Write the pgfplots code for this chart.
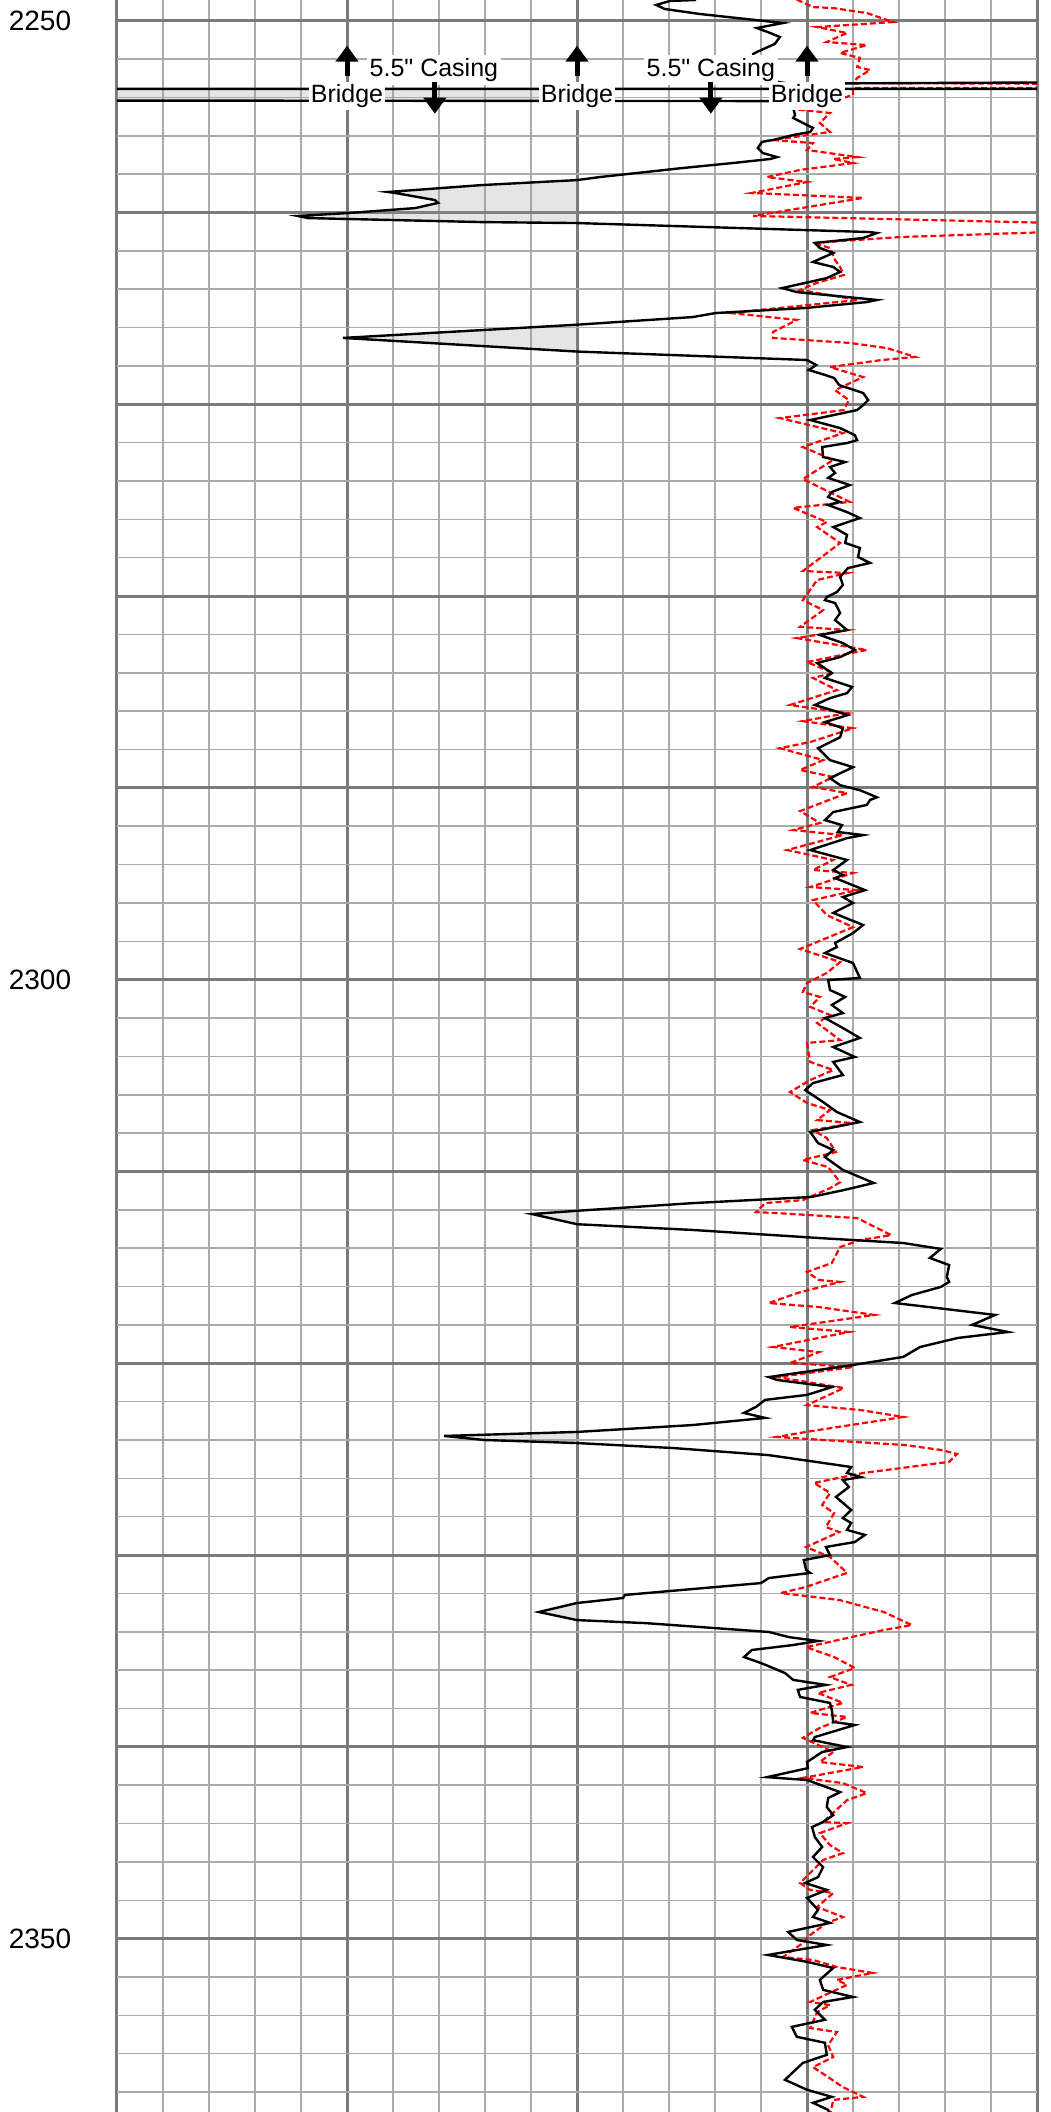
\documentclass[border=0pt]{standalone}
\usepackage{fontspec}
\setmainfont{Liberation Sans}
\usepackage{pgfplots}
\usepackage{pgfplotstable}
\pgfplotsset{compat=1.18}
\usetikzlibrary{arrows.meta}

\pgfplotstableread{
x d
12.59 2248.92
12.02 2248.97
11.72 2249.18
11.91 2249.39
12.67 2249.65
14.48 2250.12
13.91 2250.38
14.20 2250.64
14.41 2250.85
14.30 2251.21
13.91 2251.63
13.83 2251.73
13.90 2253.00
14.60 2253.28
22.00 2253.20
22.00 2253.55
-2.00 2253.55
-2.00 2254.16
14.15 2254.19
14.50 2254.34
14.70 2254.55
14.74 2254.92
14.70 2255.07
15.00 2255.44
15.13 2255.59
15.07 2255.80
14.70 2255.96
14.26 2256.22
14.02 2256.32
13.93 2256.64
14.04 2256.90
14.35 2257.11
14.20 2257.21
13.39 2257.42
12.30 2257.68
10.50 2258.15
10.00 2258.31
7.93 2258.57
5.89 2258.93
6.04 2258.98
6.91 2259.35
6.98 2259.50
6.48 2259.77
5.02 2260.03
3.93 2260.18
4.15 2260.29
7.93 2260.50
10.00 2260.55
16.37 2261.02
16.52 2261.07
16.22 2261.33
15.17 2261.59
15.28 2261.85
15.57 2262.11
15.13 2262.58
15.57 2262.84
15.72 2263.10
15.43 2263.42
14.46 2263.94
14.78 2264.15
16.52 2264.56
16.30 2264.67
14.96 2264.98
13.02 2265.24
12.52 2265.45
10.00 2265.85
4.91 2266.54
10.00 2267.25
15.00 2267.69
15.20 2267.95
15.04 2268.21
15.39 2268.47
15.59 2268.63
15.70 2269.00
16.22 2269.41
16.33 2269.78
16.22 2270.04
16.09 2270.30
15.07 2270.82
15.72 2271.24
16.04 2271.61
16.09 2271.87
15.87 2272.02
15.33 2272.23
15.35 2272.75
15.83 2273.01
15.50 2273.27
15.61 2273.58
15.46 2273.84
15.93 2274.21
15.54 2274.57
15.46 2274.83
15.72 2275.09
15.46 2275.25
15.87 2275.62
16.15 2275.93
15.57 2276.40
15.87 2276.81
15.83 2277.23
16.15 2277.49
16.11 2277.96
16.37 2278.27
15.89 2278.54
15.72 2279.00
15.78 2279.42
15.65 2279.79
15.43 2280.05
15.39 2280.21
15.61 2280.36
15.72 2280.88
15.61 2281.25
15.87 2281.77
15.28 2282.03
15.78 2282.45
16.04 2282.81
15.72 2283.18
15.22 2283.49
15.54 2284.01
15.39 2284.27
15.98 2284.74
15.87 2285.06
15.50 2285.32
15.17 2285.68
15.89 2286.20
15.39 2286.57
15.78 2286.89
15.72 2287.36
15.24 2287.93
15.50 2288.55
16.00 2288.92
15.50 2289.49
15.72 2289.86
16.15 2290.12
16.52 2290.49
16.37 2290.63
16.30 2290.89
15.57 2291.26
15.39 2291.68
15.76 2291.94
15.67 2292.30
16.22 2292.46
15.87 2292.62
15.07 2293.24
15.87 2293.76
15.57 2294.28
15.78 2294.54
15.61 2294.70
16.26 2295.33
15.78 2295.69
16.00 2296.00
15.57 2296.52
16.22 2297.15
16.00 2297.57
15.61 2298.09
15.65 2298.30
15.39 2298.61
16.00 2299.13
16.15 2299.91
15.46 2300.02
15.50 2300.54
15.83 2300.90
15.54 2301.32
15.78 2301.74
15.39 2302.00
15.78 2302.52
16.15 2303.04
15.57 2303.51
16.04 2304.03
15.57 2304.29
15.78 2304.97
15.13 2305.39
14.96 2305.76
15.35 2306.38
15.65 2306.90
16.15 2307.42
15.07 2307.94
15.24 2308.52
15.57 2308.88
15.39 2309.25
15.78 2309.92
16.45 2310.60
15.80 2310.97
15.09 2311.33
12.52 2311.65
10.00 2312.05
9.02 2312.22
9.89 2312.69
10.00 2312.75
12.52 2313.05
15.26 2313.47
17.09 2313.73
17.91 2314.04
17.67 2314.51
18.09 2314.88
18.04 2315.50
18.09 2315.76
17.91 2316.02
17.28 2316.44
16.91 2316.86
17.83 2317.12
19.09 2317.48
18.59 2318.00
19.37 2318.37
18.28 2318.68
17.46 2319.15
17.09 2319.67
16.00 2320.09
14.17 2320.72
14.35 2320.87
15.54 2321.24
15.00 2321.65
14.09 2321.91
13.89 2322.28
13.63 2322.59
14.09 2322.85
12.52 2323.22
10.00 2323.58
7.11 2323.79
7.98 2324.00
10.00 2324.16
12.09 2324.42
14.17 2324.79
15.07 2325.10
15.96 2325.41
15.87 2325.72
16.17 2325.93
15.78 2326.09
15.91 2326.45
15.63 2326.97
15.96 2327.65
15.78 2328.07
15.96 2328.33
15.87 2328.69
16.26 2328.95
16.04 2329.32
15.41 2329.58
15.50 2330.00
14.93 2330.26
14.98 2330.78
15.07 2330.93
14.17 2331.20
14.00 2331.46
11.04 2332.08
11.00 2332.24
10.00 2332.50
9.17 2332.97
10.00 2333.39
11.50 2333.55
14.17 2334.01
14.61 2334.28
15.24 2334.48
14.70 2334.69
13.80 2334.95
13.63 2335.32
14.00 2335.63
14.52 2336.15
14.70 2336.51
15.41 2336.77
14.80 2337.03
14.85 2337.40
15.50 2337.71
15.54 2338.08
15.57 2338.70
16.04 2338.86
15.17 2339.49
15.13 2339.65
15.87 2340.01
15.33 2340.27
15.00 2340.79
15.02 2341.11
14.13 2341.58
15.00 2341.73
15.72 2342.36
15.46 2342.67
15.43 2343.14
15.57 2343.56
15.35 2343.92
15.11 2344.18
15.17 2344.70
15.33 2345.22
15.13 2345.74
15.35 2346.27
15.24 2346.79
14.96 2347.10
15.43 2347.46
15.00 2347.88
15.24 2348.50
15.13 2348.87
15.50 2349.18
14.59 2349.65
14.78 2350.07
15.43 2350.33
14.15 2350.85
15.00 2351.21
15.57 2351.53
15.28 2352.15
15.35 2352.67
16.00 2353.04
15.35 2353.30
15.17 2353.71
15.39 2354.23
14.67 2354.60
14.78 2355.12
15.39 2355.43
15.43 2356.06
14.91 2356.48
14.52 2357.36
15.00 2357.88
15.54 2358.25
15.13 2358.56
15.46 2358.93
15.50 2359.20
}\blackdata

\pgfplotstableread{
x d
14.78 2248.90
15.13 2249.29
15.57 2249.34
16.30 2249.60
16.87 2250.07
15.22 2250.33
15.87 2250.64
15.43 2251.11
16.30 2251.27
15.72 2251.68
16.15 2251.94
16.09 2252.41
16.37 2252.57
16.09 2252.99
16.00 2253.25
22.00 2253.30
22.00 2253.51
16.00 2253.51
16.00 2253.87
14.91 2254.66
15.50 2254.81
15.28 2255.33
15.50 2255.80
14.26 2256.22
15.13 2256.38
15.00 2256.74
16.09 2257.11
15.57 2257.21
16.00 2257.42
14.85 2257.78
14.13 2258.15
15.00 2258.41
13.80 2258.98
16.22 2259.24
13.83 2260.18
20.50 2260.55
20.50 2261.00
17.02 2261.28
15.13 2261.59
15.50 2261.85
15.61 2262.48
15.72 2262.84
15.80 2263.26
15.20 2263.68
14.85 2264.04
16.11 2264.56
13.33 2265.24
14.78 2265.60
14.26 2266.23
14.26 2266.54
15.93 2266.80
16.74 2267.07
17.35 2267.53
16.63 2267.69
15.50 2268.06
16.22 2268.58
15.61 2269.26
15.91 2269.78
15.80 2270.30
14.41 2270.72
15.78 2271.50
14.91 2272.23
15.57 2272.90
14.91 2273.90
15.93 2275.09
14.70 2275.40
15.43 2276.14
15.22 2276.40
15.72 2277.23
15.43 2277.76
14.91 2278.69
15.87 2278.80
15.22 2279.16
14.91 2280.21
15.35 2280.73
14.85 2281.60
15.87 2281.77
14.78 2282.19
16.30 2282.81
15.00 2283.44
15.57 2284.01
15.13 2284.27
15.65 2284.90
14.63 2285.68
15.87 2286.10
14.91 2286.52
16.00 2286.89
15.07 2287.61
14.41 2287.93
15.35 2288.55
14.85 2289.07
15.57 2289.43
15.13 2289.95
15.87 2290.27
14.85 2291.21
15.28 2291.83
14.70 2292.20
15.78 2292.46
14.57 2293.24
15.57 2293.76
15.13 2294.28
16.00 2294.44
15.07 2295.17
16.09 2295.33
15.13 2295.85
15.43 2296.63
16.00 2297.26
14.85 2298.40
15.72 2299.08
15.43 2299.65
15.00 2300.17
14.91 2300.64
15.28 2300.90
15.07 2301.42
15.50 2301.84
15.22 2302.26
15.72 2303.15
15.00 2303.30
15.07 2304.29
15.57 2304.71
15.07 2305.23
14.63 2305.86
15.00 2306.43
15.50 2306.80
15.22 2307.32
16.00 2307.48
15.13 2307.84
15.43 2308.26
15.63 2308.99
14.91 2309.40
15.46 2309.77
15.72 2310.56
15.50 2310.87
14.91 2311.49
14.09 2311.65
13.89 2312.12
14.35 2312.17
16.09 2312.43
16.83 2313.32
16.17 2313.57
15.72 2313.94
15.54 2314.77
15.00 2315.24
15.26 2315.66
15.72 2315.76
14.80 2316.33
14.17 2316.86
15.26 2317.07
16.46 2317.48
14.63 2318.11
15.91 2318.37
14.26 2319.15
15.26 2319.42
14.63 2319.99
16.00 2320.20
14.35 2320.72
15.80 2321.29
15.00 2322.18
16.17 2322.44
17.09 2322.80
14.98 2323.58
14.35 2323.84
15.35 2324.00
17.11 2324.26
17.91 2324.52
18.26 2324.73
18.09 2325.14
16.22 2325.72
15.15 2326.24
15.50 2326.76
15.33 2327.39
15.59 2327.81
15.41 2328.54
15.70 2328.80
14.98 2329.58
15.50 2330.10
15.87 2330.93
14.98 2331.66
14.43 2331.98
15.70 2332.34
16.67 2332.97
17.28 2333.65
16.67 2333.91
15.96 2334.28
14.98 2334.80
15.59 2335.32
16.04 2335.89
15.50 2336.36
15.96 2336.77
15.24 2337.19
15.78 2337.71
15.07 2338.23
15.87 2338.44
15.28 2339.01
14.91 2339.53
15.57 2340.27
15.28 2340.79
16.22 2341.05
14.91 2341.62
15.78 2341.89
16.30 2342.41
15.87 2342.78
15.35 2343.92
15.87 2343.98
15.28 2344.50
15.50 2345.12
15.78 2345.54
15.35 2345.90
14.85 2347.10
15.07 2347.46
15.57 2347.62
15.22 2348.35
15.78 2348.87
15.43 2349.18
15.07 2349.81
14.91 2350.23
14.48 2350.96
15.13 2351.11
15.65 2351.48
16.43 2351.79
15.65 2352.15
15.87 2352.41
15.07 2353.30
15.50 2353.46
15.22 2353.83
15.07 2354.66
15.65 2354.87
15.46 2355.55
15.57 2356.17
15.13 2356.70
15.46 2357.22
15.78 2357.74
16.22 2358.25
15.57 2358.41
15.50 2359.20
}\reddata

\begin{document}
\begin{tikzpicture}
\useasboundingbox (-58.5pt,0pt) rectangle (466.5pt,1056pt);
\begin{axis}[
  at={(0pt,0pt)}, anchor=south west,
  width=460pt, height=1056pt, scale only axis,
  xmin=0, xmax=20, ymin=2248.92, ymax=2359.04, y dir=reverse,
  xtick={0,5,...,20}, minor xtick={0,1,...,20}, xticklabels={},
  ytick={2250,2260,...,2350}, yticklabels={2250,,,,,2300,,,,,2350},
  minor ytick={2250,2252,...,2358},
  grid=both,
  major grid style={draw=black!52, line width=1.5pt},
  minor grid style={draw=black!33, line width=0.75pt},
  axis line style={draw=none},
  major tick length=0pt, minor tick length=0pt,
  yticklabel style={font=\fontsize{14}{16}\selectfont, anchor=center, xshift=-38.5pt},
  /pgf/number format/assume math mode=true,
]
\addplot[fill=black!40, fill opacity=0.25, draw=none] table[x expr={min(\thisrow{x},10)}, y=d] {\blackdata} -- cycle;
\addplot[red, line width=1.1pt, dash pattern=on 3pt off 1.5pt] table[x=x, y=d] {\reddata};
\addplot[black, line width=1.2pt] table[x=x, y=d] {\blackdata};

\node[fill=white, inner sep=1.5pt, font=\fontsize{12.5}{14}\selectfont] at (axis cs:6.89,2252.57) {5.5\textquotedbl\ Casing};
\node[fill=white, inner sep=1.5pt, font=\fontsize{12.5}{14}\selectfont] at (axis cs:12.91,2252.57) {5.5\textquotedbl\ Casing};
\draw[line width=2.5pt, -{Triangle[width=11pt,length=8pt]}] (axis cs:5,2252.90) -- (axis cs:5,2251.30);
\draw[line width=2.5pt, -{Triangle[width=11pt,length=8pt]}] (axis cs:10,2252.90) -- (axis cs:10,2251.30);
\draw[line width=2.5pt, -{Triangle[width=11pt,length=8pt]}] (axis cs:15,2252.90) -- (axis cs:15,2251.30);
\draw[line width=2.5pt, -{Triangle[width=11pt,length=8pt]}] (axis cs:6.91,2253.20) -- (axis cs:6.91,2254.85);
\draw[line width=2.5pt, -{Triangle[width=11pt,length=8pt]}] (axis cs:12.91,2253.20) -- (axis cs:12.91,2254.85);
\node[fill=white, inner sep=1pt, font=\fontsize{12.5}{14}\selectfont] at (axis cs:5,2253.93) {Bridge};
\node[fill=white, inner sep=1pt, font=\fontsize{12.5}{14}\selectfont] at (axis cs:10,2253.93) {Bridge};
\node[fill=white, inner sep=1pt, font=\fontsize{12.5}{14}\selectfont] at (axis cs:15,2253.93) {Bridge};
\end{axis}
\end{tikzpicture}
\end{document}
